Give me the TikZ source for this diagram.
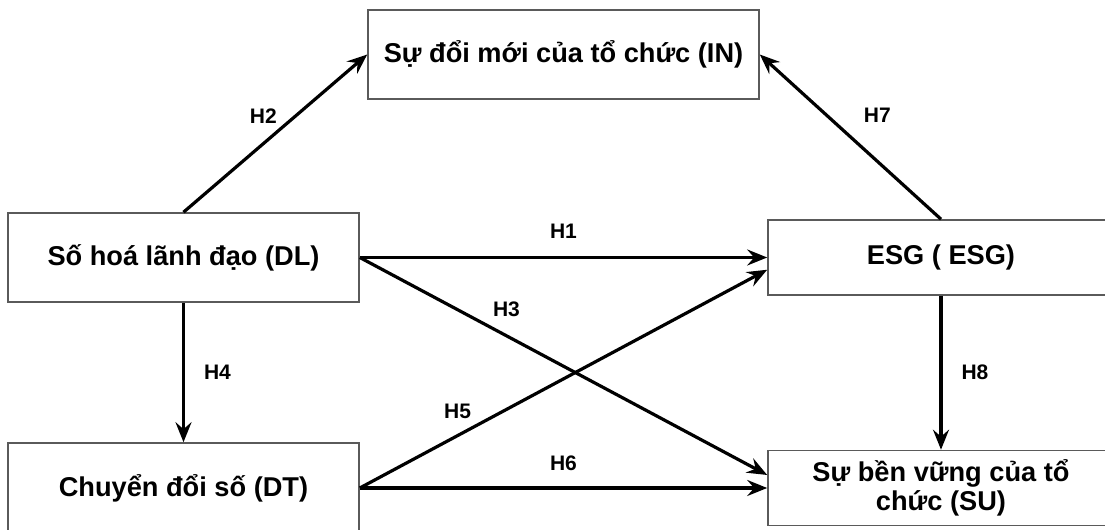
\documentclass[tikz,border=0pt]{standalone}
\usepackage{fontspec}
\setmainfont{Liberation Sans}
\usetikzlibrary{arrows.meta,positioning,calc}
\definecolor{boxgray}{RGB}{90,90,90}

\begin{document}
\begin{tikzpicture}[x=1pt, y=1pt,
    box/.style={draw=boxgray, line width=0.8pt, fill=white, minimum width=#1, align=center, font=\fontsize{13.6}{14.5}\selectfont\bfseries, inner sep=0pt},
    arr/.style={-{Stealth[length=10pt, width=8pt, inset=3.5pt]}, line width=1.6pt},
    lbl/.style={font=\fontsize{10.5}{12}\selectfont\bfseries, inner sep=0pt}
]
\path[use as bounding box, clip] (0,0) rectangle (552.5,265);

\node[box=195.5pt, minimum height=44.5pt] (in) at (281.75,237.75) {Sự đổi mới của tổ chức (IN)};
\node[box=175.5pt, minimum height=44.5pt] (dl) at (91.75,136.25) {Số hoá lãnh đạo (DL)};
\node[box=175.5pt, minimum height=45pt] (dt) at (91.75,21) {Chuyển đổi số (DT)};
\node[box=173pt, minimum height=37.5pt] (esg) at (470.5,136.25) {ESG ( ESG)};
\node[box=173pt, minimum height=37.5pt] (su) at (470.5,21) {Sự bền vững của tổ\\chức (SU)};

\draw[arr] (dl.east) -- node[lbl, midway, yshift=13pt] {H1} (esg.west);
\draw[arr] (dl.north) -- node[lbl, midway, xshift=-6pt, yshift=8.5pt] {H2} (in.west);
\draw[arr] (dl.east) -- node[lbl, pos=0.36, yshift=13.5pt] {H3} ($(su.north west)!0.33!(su.south west)$);
\draw[arr] (dl) -- node[lbl, midway, xshift=17pt] {H4} (dt);
\draw[arr] (dt.east) -- node[lbl, pos=0.24, yshift=12pt] {H5} ($(esg.north west)!0.66!(esg.south west)$);
\draw[arr] (dt.east) -- node[lbl, midway, yshift=12.5pt] {H6} (su.west);
\draw[arr] (esg.north) -- node[lbl, midway, xshift=13.5pt, yshift=11pt] {H7} (in.east);
\draw[arr] (esg) -- node[lbl, midway, xshift=17pt] {H8} (su);
\end{tikzpicture}
\end{document}
